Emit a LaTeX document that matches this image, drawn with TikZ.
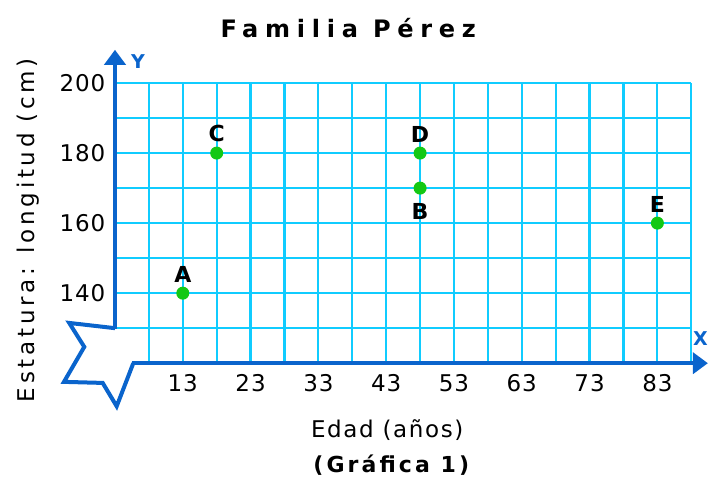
\documentclass[tikz,border=0pt]{standalone}
\usepackage{fontspec}
\setmainfont{DejaVu Sans}
\usepackage{tikz}
\usetikzlibrary{arrows.meta,positioning}
\definecolor{gridcyan}{HTML}{10CCFF}
\definecolor{axisblue}{HTML}{0A64CC}
\definecolor{dotgreen}{HTML}{14C814}
\tikzstyle{gridline} = [gridcyan,line width=2.2pt]
\tikzstyle{axis} = [axisblue,line width=4pt,-{Triangle[width=21pt,length=15pt]}]
\tikzstyle{dot} = [circle,fill=dotgreen,inner sep=0pt,minimum size=13pt]
\tikzstyle{txt} = [inner sep=0pt,font=\fontsize{23}{27}\selectfont\addfontfeature{LetterSpace=7}]
\tikzstyle{tick} = [inner sep=0pt,font=\fontsize{23}{27}\selectfont\addfontfeature{LetterSpace=4}]
\tikzstyle{ptlabel} = [inner sep=0pt,font=\fontsize{22}{26}\selectfont\bfseries]
\tikzstyle{axlabel} = [inner sep=0pt,axisblue,font=\fontsize{19}{22}\selectfont\bfseries]

\begin{document}
\begin{tikzpicture}[x=33.88pt,y=35pt]
  \useasboundingbox (-3.392,-3.314) rectangle (17.493,10.371);
  \foreach \i in {1,...,17}
    \draw[gridline] (\i,0) -- (\i,8);
  \foreach \j in {1,...,8}
    \draw[gridline] (0,\j) -- (17,\j);
  \draw[axis,-] (0,1) -- (-1.35,1.15) -- (-0.906,0.466) -- (-1.505,-0.533)
    -- (-0.363,-0.563) -- (0.05,-1.23) -- (0.54,0);
  \draw[axis] (0,0.97) -- (0,8.95);
  \draw[axis] (0.5,0) -- (17.49,0);
  \node[axlabel] (ylet) at (0.68,8.6) {Y};
  \node[axlabel] (xlet) at (17.27,0.71) {X};
  \foreach \v/\j in {200/8,180/6,160/4,140/2}
    \node[tick,anchor=east] (y\v) at (-0.28,\j) {\v};
  \foreach \v/\i in {13/2,23/4,33/6,43/8,53/10,63/12,73/14,83/16}
    \node[tick] (x\v) at (\i,-0.57) {\v};
  \node[dot] (A) at (2,2) {};
  \node[dot] (C) at (3,6) {};
  \node[dot] (D) at (9,6) {};
  \node[dot] (B) at (9,5) {};
  \node[dot] (E) at (16,4) {};
  \node[ptlabel,above=4pt of A] (lA) {A};
  \node[ptlabel,above=4pt of C] (lC) {C};
  \node[ptlabel,above=4pt of D] (lD) {D};
  \node[ptlabel,below=8pt of B] (lB) {B};
  \node[ptlabel,above=4pt of E] (lE) {E};
  \node[inner sep=0pt,font=\fontsize{24}{28}\selectfont\bfseries\addfontfeature{LetterSpace=28}] (title) at (6.88,9.57) {Familia Pérez};
  \node[txt] (xname) at (8.03,-1.914) {Edad (años)};
  \node[txt,rotate=90,font=\fontsize{23}{27}\selectfont\addfontfeature{LetterSpace=16}] (yname) at (-2.568,3.8) {Estatura: longitud (cm)};
  \node[inner sep=0pt,font=\fontsize{22}{26}\selectfont\bfseries\addfontfeature{LetterSpace=14}] (caption) at (8.15,-2.914) {(Gráfica 1)};
\end{tikzpicture}
\end{document}
